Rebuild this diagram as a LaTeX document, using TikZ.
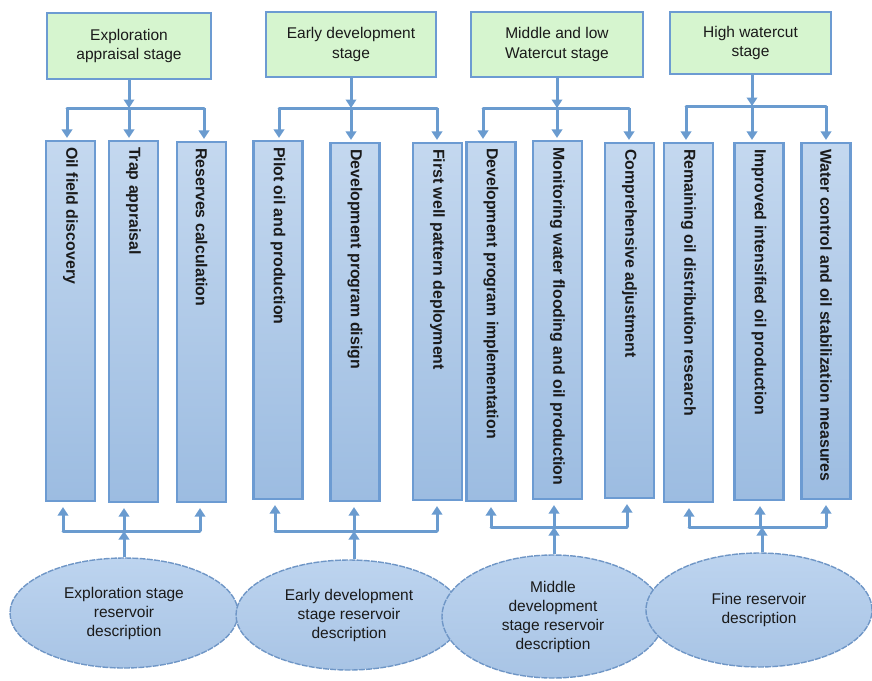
\documentclass[tikz,border=0pt]{standalone}
\usepackage{fontspec}
\setmainfont{Liberation Sans}
\usetikzlibrary{arrows.meta,shapes.geometric}
\definecolor{bord}{HTML}{6C9BD2}
\definecolor{greenfill}{HTML}{D6F5CF}
\definecolor{coltop}{HTML}{C4D8EF}
\definecolor{colbot}{HTML}{9CBCE1}
\definecolor{elltop}{HTML}{BDD4EF}
\definecolor{ellbot}{HTML}{A8C4E5}
\definecolor{ellbord}{HTML}{6F96C6}
\definecolor{arrcol}{HTML}{6A9BCF}
\definecolor{txt}{HTML}{1A1A1A}
\begin{document}
\begin{tikzpicture}[x=1pt,y=-1pt,
  stagebox/.style={draw=bord, line width=2.6pt, fill=greenfill, align=center,
    font=\fontsize{15.5}{19.5}\selectfont, text=txt, inner sep=0pt},
  colbox/.style={draw=bord, line width=2.2pt, top color=coltop, bottom color=colbot,
    inner sep=0pt, minimum width=49pt},
  coltext/.style={rotate=-90, anchor=west, font=\bfseries\fontsize{15.9}{18}\selectfont,
    inner sep=0pt, text=txt},
  descell/.style={ellipse, draw=ellbord, line width=1.4pt, dash pattern=on 6pt off 1.2pt,
    top color=elltop, bottom color=ellbot, align=center, inner sep=0pt,
    font=\fontsize{15.5}{19}\selectfont, text=txt},
  link/.style={draw=arrcol, line width=3pt},
  tip/.style={link, -{Triangle[width=10.5pt,length=8.5pt]}}
]
\useasboundingbox (0,0) rectangle (872,680);

% stage boxes
\node[stagebox, minimum width=164pt, minimum height=66pt] (g1) at (129,46) {Exploration\\appraisal stage};
\node[stagebox, minimum width=170pt, minimum height=65pt] (g2) at (351,44.5) {Early development\\stage};
\node[stagebox, minimum width=172pt, minimum height=65pt] (g3) at (557,44.5) {Middle and low\\Watercut stage};
\node[stagebox, minimum width=161pt, minimum height=62pt] (g4) at (750.5,43) {High watercut\\stage};

% columns
\node[colbox, minimum height=360pt] (c11) at (70.5,321) {};
\node[colbox, minimum height=361pt] (c12) at (133.5,321.5) {};
\node[colbox, minimum height=360pt] (c13) at (201.5,322) {};
\node[colbox, minimum height=358pt] (c21) at (278,320) {};
\node[colbox, minimum height=358pt] (c22) at (355,322) {};
\node[colbox, minimum height=357pt] (c23) at (437.5,321.5) {};
\node[colbox, minimum height=359pt] (c31) at (491,321.5) {};
\node[colbox, minimum height=358pt] (c32) at (557.5,320) {};
\node[colbox, minimum height=355pt] (c33) at (629.5,320.5) {};
\node[colbox, minimum height=359pt] (c41) at (688.5,322.5) {};
\node[colbox, minimum height=357pt] (c42) at (759,321.5) {};
\node[colbox, minimum height=356pt] (c43) at (826,321) {};

\node[coltext] (t11) at ([yshift=-7pt]c11.north) {Oil field discovery};
\node[coltext] (t12) at ([yshift=-7pt]c12.north) {Trap appraisal};
\node[coltext] (t13) at ([yshift=-7pt]c13.north) {Reserves calculation};
\node[coltext] (t21) at ([yshift=-7pt]c21.north) {Pilot oil and production};
\node[coltext] (t22) at ([yshift=-7pt]c22.north) {Development program disign};
\node[coltext] (t23) at ([yshift=-7pt]c23.north) {First well pattern deployment};
\node[coltext] (t31) at ([yshift=-7pt]c31.north) {Development program implementation};
\node[coltext] (t32) at ([yshift=-7pt]c32.north) {Monitoring water flooding and oil production};
\node[coltext] (t33) at ([yshift=-7pt]c33.north) {Comprehensive adjustment};
\node[coltext] (t41) at ([yshift=-7pt]c41.north) {Remaining oil distribution research};
\node[coltext] (t42) at ([yshift=-7pt]c42.north) {Improved intensified oil production};
\node[coltext] (t43) at ([yshift=-7pt]c43.north) {Water control and oil stabilization measures};

% ellipses
\node[descell, minimum width=228pt, minimum height=110pt] (e1) at (124,613) {Exploration stage\\reservoir\\description};
\node[descell, minimum width=226pt, minimum height=110pt] (e2) at (349,615) {Early development\\stage reservoir\\description};
\node[descell, minimum width=222pt, minimum height=123pt] (e3) at (553,616.5) {Middle\\development\\stage reservoir\\description};
\node[descell, minimum width=226pt, minimum height=114pt] (e4) at (759,610) {Fine reservoir\\description};

% top connectors
\coordinate (j1) at (129,108);
\coordinate (j2) at (351,108);
\coordinate (j3) at (557,108);
\coordinate (j4) at (752,106);
\coordinate (a11) at (67,108);  \coordinate (a12) at (129,108); \coordinate (a13) at (204,108);
\coordinate (a21) at (279,108); \coordinate (a22) at (351,108); \coordinate (a23) at (437,108);
\coordinate (a31) at (483,108); \coordinate (a32) at (557,108); \coordinate (a33) at (629,108);
\coordinate (a41) at (686,106); \coordinate (a42) at (752,106); \coordinate (a43) at (826,106);

\foreach \s in {1,2,3,4}{
  \draw[tip] (g\s.south -| j\s) -- (j\s);
  \draw[link, line cap=round] (a\s1) -- (a\s3);
  \foreach \c in {1,2,3}{
    \draw[tip, shorten >=2pt] (a\s\c) -- (a\s\c |- c\s\c.north);
  }
}

% bottom connectors
\coordinate (k1) at (124,531);
\coordinate (k2) at (354,531);
\coordinate (k3) at (554,527);
\coordinate (k4) at (762,527);
\coordinate (d11) at (63,531);  \coordinate (d12) at (124,531); \coordinate (d13) at (200,531);
\coordinate (d21) at (275,531); \coordinate (d22) at (354,531); \coordinate (d23) at (437,531);
\coordinate (d31) at (491,527); \coordinate (d32) at (554,527); \coordinate (d33) at (627,527);
\coordinate (d41) at (689,527); \coordinate (d42) at (760,527); \coordinate (d43) at (826,527);

\foreach \s in {1,2,3,4}{
  \draw[tip] (k\s |- e\s.north) -- (k\s);
  \draw[link, line cap=round] (d\s1) -- (d\s3);
  \foreach \c in {1,2,3}{
    \draw[tip, shorten >=5pt] (d\s\c) -- (d\s\c |- c\s\c.south);
  }
}
\end{tikzpicture}
\end{document}
